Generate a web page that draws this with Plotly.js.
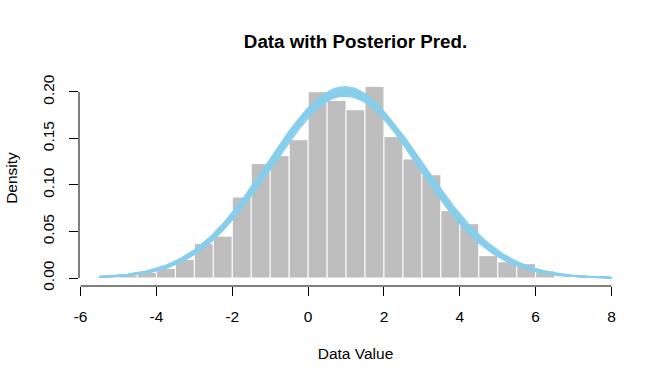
<!DOCTYPE html>
<html>
<head>
<meta charset="utf-8">
<script src="https://cdn.plot.ly/plotly-3.0.1.min.js"></script>
<style>html,body{margin:0;padding:0;background:#fff;}</style>
</head>
<body>
<div id="chart" style="width:672px;height:384px;"></div>
<script>
// Histogram bins (left edges) and densities
var binLeft = [-5.5,-5,-4.5,-4,-3.5,-3,-2.5,-2,-1.5,-1,-0.5,0,0.5,1,1.5,2,2.5,3,3.5,4,4.5,5,5.5,6];
var binWidth = 0.5;
var density = [0.0035,0.003,0.006,0.0104,0.020,0.037,0.045,0.087,0.123,0.1315,0.1487,0.2003,0.191,0.181,0.206,0.152,0.128,0.111,0.0724,0.0584,0.024,0.0175,0.0154,0.0078];

// Posterior predictive draws (normal mean / sd)
var postMu = [0.92,0.95,0.98,1.0,0.9,0.97,1.02,0.94,0.99,1.04,0.93,0.96,1.01,0.88,1.03,0.97,0.95,1.0,1.07,0.91];
var postSd = [1.97,2.0,1.96,2.02,2.01,1.99,1.98,2.03,1.95,2.0,1.99,2.04,1.97,1.98,2.01,1.94,2.02,2.0,2.02,1.96];
var curveFrom = -5.5, curveTo = 8;

var xTicks = [-6,-4,-2,0,2,4,6,8];
var yTicks = [0,0.05,0.10,0.15,0.20];
var yTickText = ["0.00","0.05","0.10","0.15","0.20"];

var traces = [];
var mids = binLeft.map(function(b){return b + binWidth/2;});
traces.push({
  type:'bar', x: mids, y: density, width: binWidth,
  marker:{color:'#BEBEBE', line:{color:'#FFFFFF', width:1}},
  hoverinfo:'skip', showlegend:false
});

var nPts = 200;
for (var k=0;k<postMu.length;k++){
  var xs=[], ys=[];
  for (var i=0;i<=nPts;i++){
    var x = curveFrom + (curveTo-curveFrom)*i/nPts;
    var z = (x-postMu[k])/postSd[k];
    xs.push(x);
    ys.push(Math.exp(-0.5*z*z)/(postSd[k]*Math.sqrt(2*Math.PI)));
  }
  traces.push({type:'scatter', mode:'lines', x:xs, y:ys,
    line:{color:'#87CEEB', width:1.3}, hoverinfo:'skip', showlegend:false});
}

var fnt = 'Liberation Sans, Arial, sans-serif';
var layout = {
  width:672, height:384,
  margin:{l:79, r:40, t:70, b:98},
  paper_bgcolor:'#fff', plot_bgcolor:'#fff',
  bargap:0,
  title:{text:'Data with Posterior Pred.', font:{family:fnt, size:18.8, color:'#000', weight:'bold'},
    x:0.5, xref:'paper', xanchor:'center', y:1-41/384, yref:'container', yanchor:'middle'},
  xaxis:{range:[-6.042,8.54], showgrid:false, zeroline:false, showline:false,
    tickmode:'array', tickvals:xTicks, ticktext:xTicks.map(String),
    ticks:'outside', ticklen:9, tickcolor:'#000', tickwidth:1,
    ticklabelstandoff:7,
    tickfont:{family:fnt, size:15.5, color:'#000'},
    title:{text:'Data Value', font:{family:fnt, size:15.5, color:'#000'}, standoff:24}},
  yaxis:{range:[-0.0086,0.2236], showgrid:false, zeroline:false, showline:false,
    tickmode:'array', tickvals:yTicks, ticktext:yTickText, tickangle:-90,
    ticks:'outside', ticklen:9, tickcolor:'#000', tickwidth:1,
    ticklabelstandoff:9,
    tickfont:{family:fnt, size:15.5, color:'#000'},
    title:{text:'Density', font:{family:fnt, size:15.5, color:'#000'}, standoff:18}},
  shapes:[
    {type:'line', xref:'x', yref:'paper', x0:xTicks[0], x1:xTicks[xTicks.length-1], y0:0, y1:0, line:{color:'#000', width:1}},
    {type:'line', xref:'paper', yref:'y', x0:0, x1:0, y0:yTicks[0], y1:yTicks[yTicks.length-1], line:{color:'#000', width:1}}
  ]
};
Plotly.newPlot('chart', traces, layout, {staticPlot:true, displayModeBar:false});
</script>
</body>
</html>
